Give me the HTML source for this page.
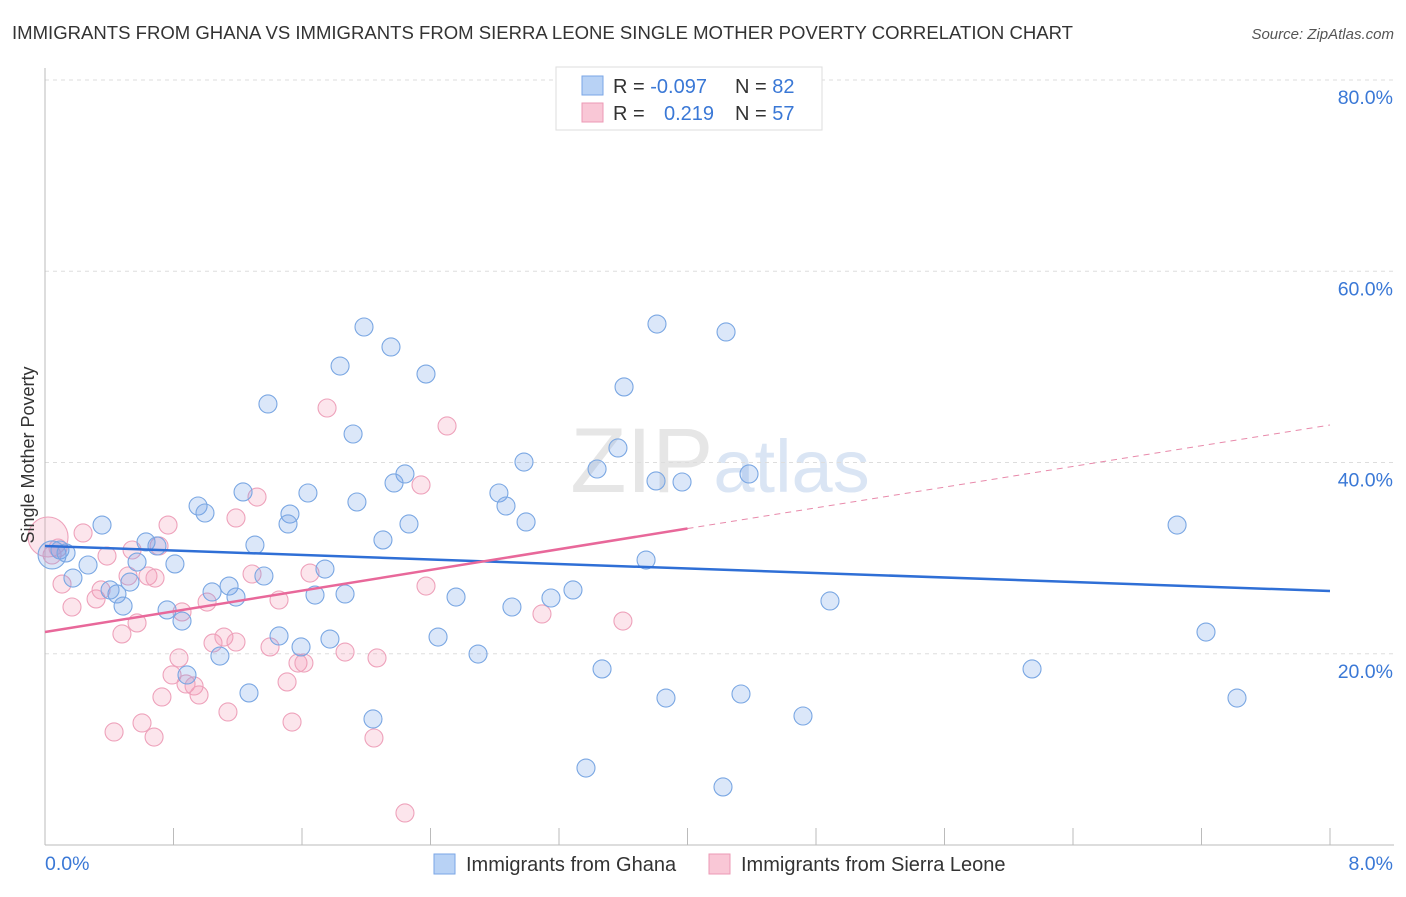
<!DOCTYPE html>
<html><head><meta charset="utf-8"><style>
body{margin:0;background:#fff;font-family:"Liberation Sans",sans-serif;}
svg text{font-family:"Liberation Sans",sans-serif;}
</style></head><body>
<svg id="chart" width="1406" height="892" xmlns="http://www.w3.org/2000/svg">
<text x="12" y="39" font-size="18" fill="#333" textLength="1061" lengthAdjust="spacingAndGlyphs">IMMIGRANTS FROM GHANA VS IMMIGRANTS FROM SIERRA LEONE SINGLE MOTHER POVERTY CORRELATION CHART</text>
<text x="1394" y="39" font-size="15" fill="#555" font-style="italic" text-anchor="end">Source: ZipAtlas.com</text>
<text x="720" y="492" font-size="92" fill="#e6e6e6" text-anchor="middle" font-family="Liberation Serif">ZIP<tspan fill="#dae5f4" font-family="Liberation Sans" font-size="74">atlas</tspan></text>
<g id="grid"></g>
<g id="axes"></g>
<g id="marks"></g>
<text transform="translate(34,455) rotate(-90)" font-size="18" fill="#333" text-anchor="middle">Single Mother Poverty</text>
<g>
<rect x="556" y="67" width="266" height="63" fill="#fff" stroke="#ddd"/>
<rect x="582" y="76" width="21" height="19" fill="#b8d2f5" stroke="#7aa6e6"/>
<rect x="582" y="103" width="21" height="19" fill="#f9c7d6" stroke="#ec9ab5"/>
<text x="613" y="93" font-size="20" fill="#333">R = <tspan fill="#3a78d6">-0.097</tspan></text>
<text x="613" y="120" font-size="20" fill="#333">R = <tspan fill="#3a78d6" x="664">0.219</tspan></text>
<text x="735" y="93" font-size="20" fill="#333">N = <tspan fill="#3a78d6">82</tspan></text>
<text x="735" y="120" font-size="20" fill="#333">N = <tspan fill="#3a78d6">57</tspan></text>
</g>
<g>
<rect x="434" y="854" width="21" height="20" fill="#b8d2f5" stroke="#7aa6e6"/>
<text x="466" y="871" font-size="20" fill="#333">Immigrants from Ghana</text>
<rect x="709" y="854" width="21" height="20" fill="#f9c7d6" stroke="#ec9ab5"/>
<text x="741" y="871" font-size="20" fill="#333">Immigrants from Sierra Leone</text>
</g>
</svg>
<script>
const xTicks=[0,1,2,3,4,5,6,7,8];
const yTicks=[20,40,60,80];
const yTickLabels=["20.0%","40.0%","60.0%","80.0%"];
const xEndLabels=["0.0%","8.0%"];
const ghanaX=[0.355,0.629,0.697,0.809,0.573,0.529,0.448,0.486,0.405,0.268,0.174,0.093,0.044,0.131,0.953,0.996,1.233,1.388,1.307,1.363,1.146,1.189,1.040,0.760,0.853,0.884,1.089,1.270,1.457,1.594,1.637,1.525,1.513,1.743,1.681,1.774,1.868,1.986,1.837,1.918,2.154,2.372,1.942,2.104,2.241,2.173,2.266,2.042,2.447,2.559,2.696,2.907,2.982,2.826,2.870,2.995,3.150,3.287,3.368,3.468,3.437,3.567,3.605,3.810,3.804,3.966,3.742,3.866,4.240,4.383,4.333,4.221,4.719,4.887,6.145,7.048,7.228,7.421];
const ghanaY=[33.46,31.69,31.27,29.39,29.59,27.50,26.25,24.99,26.67,29.28,27.92,30.85,30.33,30.54,35.45,34.72,36.92,46.12,31.37,28.13,27.08,25.93,26.46,24.58,23.42,17.78,19.76,15.90,21.86,20.71,36.81,34.61,33.57,28.86,26.14,21.54,26.25,54.17,50.09,42.98,52.08,49.25,35.87,31.90,38.80,37.86,33.57,13.18,21.75,25.93,19.97,24.89,40.05,36.81,35.45,33.78,25.83,26.67,8.05,18.41,39.32,41.52,47.90,54.48,38.07,37.96,29.80,15.37,53.65,38.80,15.79,6.07,13.49,25.52,18.41,33.46,22.27,15.37];
const sierraX=[0.019,0.044,0.081,0.237,0.106,0.168,0.318,0.349,0.386,0.517,0.542,0.479,0.573,0.641,0.710,0.766,0.685,0.834,0.853,0.791,0.728,0.878,0.928,0.959,0.430,0.604,0.679,1.009,1.046,1.114,1.189,1.139,1.189,1.320,1.289,1.457,1.401,1.507,1.538,1.575,1.612,1.650,1.756,1.868,2.067,2.048,2.341,2.503,2.372,3.094,3.598,3.816,2.241];
const sierraY=[32.21,30.33,31.06,32.63,27.29,24.89,25.73,26.67,30.22,28.13,30.85,22.07,23.22,28.13,31.27,33.46,27.92,19.56,24.37,17.78,15.48,16.84,16.63,15.69,11.82,12.76,11.29,25.41,21.12,21.75,21.23,13.91,34.20,36.39,28.34,25.62,20.71,17.05,12.86,19.03,19.03,28.44,45.70,20.18,19.56,11.19,37.65,43.82,27.08,24.16,23.42,77.49,3.35];
const ghanaTrend=[31.27,26.56];
const sierraTrend=[22.27,43.92];
const sierraSolidEnd=4;
const NS="http://www.w3.org/2000/svg";
const X0=45,X1=1330,Y0=845,YK=9.5625;
function sx(v){return X0+(X1-X0)*v/8;}
function sy(v){return Y0-YK*v;}
function mk(tag,attrs,parent){const e=document.createElementNS(NS,tag);for(const k in attrs)e.setAttribute(k,attrs[k]);parent.appendChild(e);return e;}
const grid=document.getElementById('grid'),axes=document.getElementById('axes'),marks=document.getElementById('marks');
yTicks.forEach((t,i)=>{
 const l=mk('line',{x1:X0,x2:1394,y1:sy(t),y2:sy(t),stroke:'#ddd','stroke-dasharray':'4,4'},grid);
 
 
 const tx=mk('text',{x:1393,y:sy(t)+24,'font-size':19.5,fill:'#3a78d6','text-anchor':'end'},axes);
 tx.textContent=yTickLabels[i];
 
 
});
const ax=mk('line',{x1:X0,x2:X0,y1:68,y2:845,stroke:'#bbb'},axes);


const bx=mk('line',{x1:X0,x2:1394,y1:845,y2:845,stroke:'#bbb'},axes);


for(let i=1;i<=10;i++){
 const t=i*0.8;
 const tk=mk('line',{x1:sx(t),x2:sx(t),y1:828,y2:845,stroke:'#bbb'},axes);
 
 
}
const xl0=mk('text',{x:45,y:870,'font-size':19.5,fill:'#3a78d6'},axes);
xl0.textContent=xEndLabels[0];


const xl1=mk('text',{x:1393,y:870,'font-size':19.5,fill:'#3a78d6','text-anchor':'end'},axes);
xl1.textContent=xEndLabels[1];


sierraX.forEach((x,i)=>{
 const c=mk('circle',{cx:sx(x),cy:sy(sierraY[i]),r:i===0?20:9,fill:'rgba(242,150,180,0.25)',stroke:'#eea2bb','stroke-width':1.1},marks);
 
 
});
ghanaX.forEach((x,i)=>{
 const c=mk('circle',{cx:sx(x),cy:sy(ghanaY[i]),r:i===12?14:9,fill:'rgba(110,160,230,0.25)',stroke:'#7aa7e3','stroke-width':1.1},marks);
 
 
});
const gl=mk('line',{x1:sx(0),y1:sy(ghanaTrend[0]),x2:sx(8),y2:sy(ghanaTrend[1]),stroke:'#2f6fd6','stroke-width':2.5},marks);


const sMid=sierraTrend[0]+(sierraTrend[1]-sierraTrend[0])*sierraSolidEnd/8;
const sl=mk('line',{x1:sx(0),y1:sy(sierraTrend[0]),x2:sx(sierraSolidEnd),y2:sy(sMid),stroke:'#e8689a','stroke-width':2.5},marks);


const sd=mk('line',{x1:sx(sierraSolidEnd),y1:sy(sMid),x2:sx(8),y2:sy(sierraTrend[1]),stroke:'#e88aab','stroke-width':1,'stroke-dasharray':'6,5'},marks);


</script>
</body></html>
